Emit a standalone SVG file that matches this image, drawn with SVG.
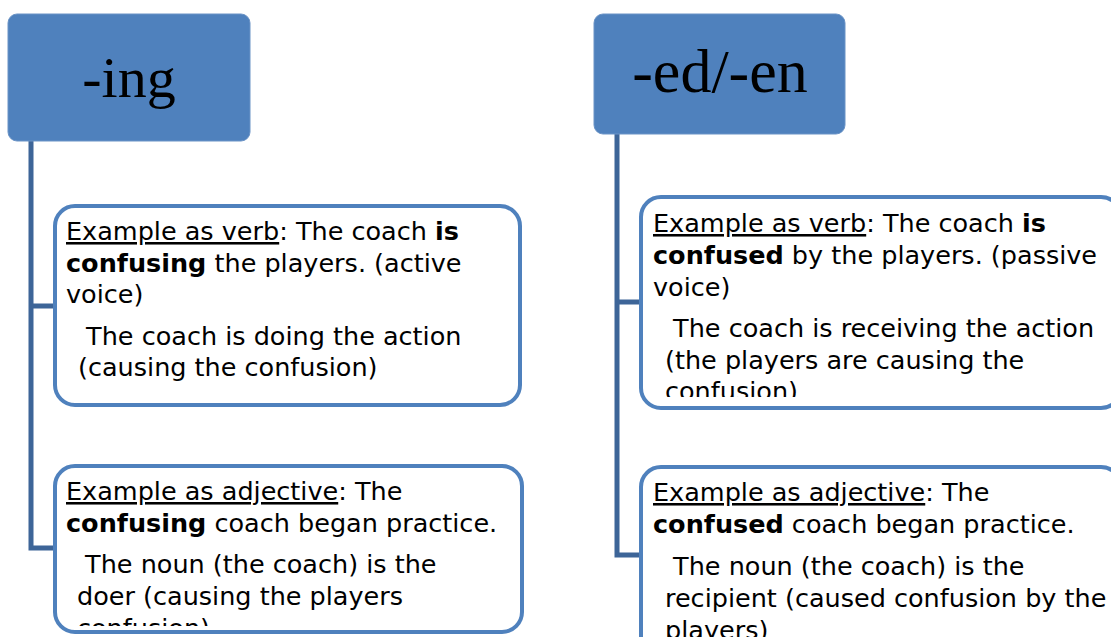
<svg xmlns="http://www.w3.org/2000/svg" width="1111" height="637" viewBox="0 0 1111 637">
<style>
.hdr{fill:#4F81BD;stroke:#6A93C6;stroke-width:1}
.ht{font-family:"Liberation Serif",serif;fill:#000;text-anchor:middle}
.box{fill:#fff;stroke:#4F81BD;stroke-width:4}
.conn{fill:none;stroke:#3D6598;stroke-width:5}
.t{font-family:"DejaVu Sans","Liberation Sans",sans-serif;font-size:25.5px;fill:#000}
.b{font-weight:bold}
.u{text-decoration:underline}
</style>
<defs>
<clipPath id="c1"><rect x="58" y="209" width="459" height="193"/></clipPath>
<clipPath id="c2"><rect x="58" y="469" width="461" height="157"/></clipPath>
<clipPath id="c3"><rect x="644" y="200" width="467" height="197"/></clipPath>
<clipPath id="c4"><rect x="644" y="470" width="467" height="167"/></clipPath>
</defs>
<rect width="1111" height="637" fill="#fff"/>
<g id="connectors">
<path class="conn" d="M31 141 V548 H57 M31 306 H57"/>
<path class="conn" d="M617 134 V555 H643 M617 302 H643"/>
</g>
<g id="hdr-ing">
<rect class="hdr" x="8" y="14" width="242" height="127" rx="9"/>
<text class="ht" x="129" y="97" font-size="58">-ing</text>
</g>
<g id="hdr-ed">
<rect class="hdr" x="594" y="14" width="251" height="120" rx="9"/>
<text class="ht" x="720" y="92" font-size="62">-ed/-en</text>
</g>
<g id="ing-verb">
<rect class="box" x="55" y="206" width="465" height="199" rx="20"/>
<g clip-path="url(#c1)">
<text class="t" x="66" y="240"><tspan class="u">Example as verb</tspan>: The coach <tspan class="b">is</tspan></text>
<text class="t" x="66" y="272"><tspan class="b">confusing</tspan> the players. (active</text>
<text class="t" x="66" y="303">voice)</text>
<text class="t" x="78" y="345" xml:space="preserve"> The coach is doing the action</text>
<text class="t" x="78" y="376">(causing the confusion)</text>
</g>
</g>
<g id="ing-adj">
<rect class="box" x="55" y="466" width="467" height="166" rx="20"/>
<g clip-path="url(#c2)">
<text class="t" x="66" y="500"><tspan class="u">Example as adjective</tspan>: The</text>
<text class="t" x="66" y="532"><tspan class="b">confusing</tspan> coach began practice.</text>
<text class="t" x="77" y="573" xml:space="preserve"> The noun (the coach) is the</text>
<text class="t" x="77" y="605">doer (causing the players</text>
<text class="t" x="77" y="637">confusion)</text>
</g>
</g>
<g id="ed-verb">
<rect class="box" x="641" y="197" width="480" height="211" rx="20"/>
<g clip-path="url(#c3)">
<text class="t" x="653" y="232"><tspan class="u">Example as verb</tspan>: The coach <tspan class="b">is</tspan></text>
<text class="t" x="653" y="264"><tspan class="b">confused</tspan> by the players. (passive</text>
<text class="t" x="653" y="296">voice)</text>
<text class="t" x="665" y="337" xml:space="preserve"> The coach is receiving the action</text>
<text class="t" x="665" y="369">(the players are causing the</text>
<text class="t" x="665" y="400">confusion)</text>
</g>
</g>
<g id="ed-adj">
<rect class="box" x="641" y="467" width="480" height="190" rx="20"/>
<g clip-path="url(#c4)">
<text class="t" x="653" y="501"><tspan class="u">Example as adjective</tspan>: The</text>
<text class="t" x="653" y="533"><tspan class="b">confused</tspan> coach began practice.</text>
<text class="t" x="665" y="575" xml:space="preserve"> The noun (the coach) is the</text>
<text class="t" x="665" y="607">recipient (caused confusion by the</text>
<text class="t" x="665" y="639">players)</text>
</g>
</g>
</svg>
